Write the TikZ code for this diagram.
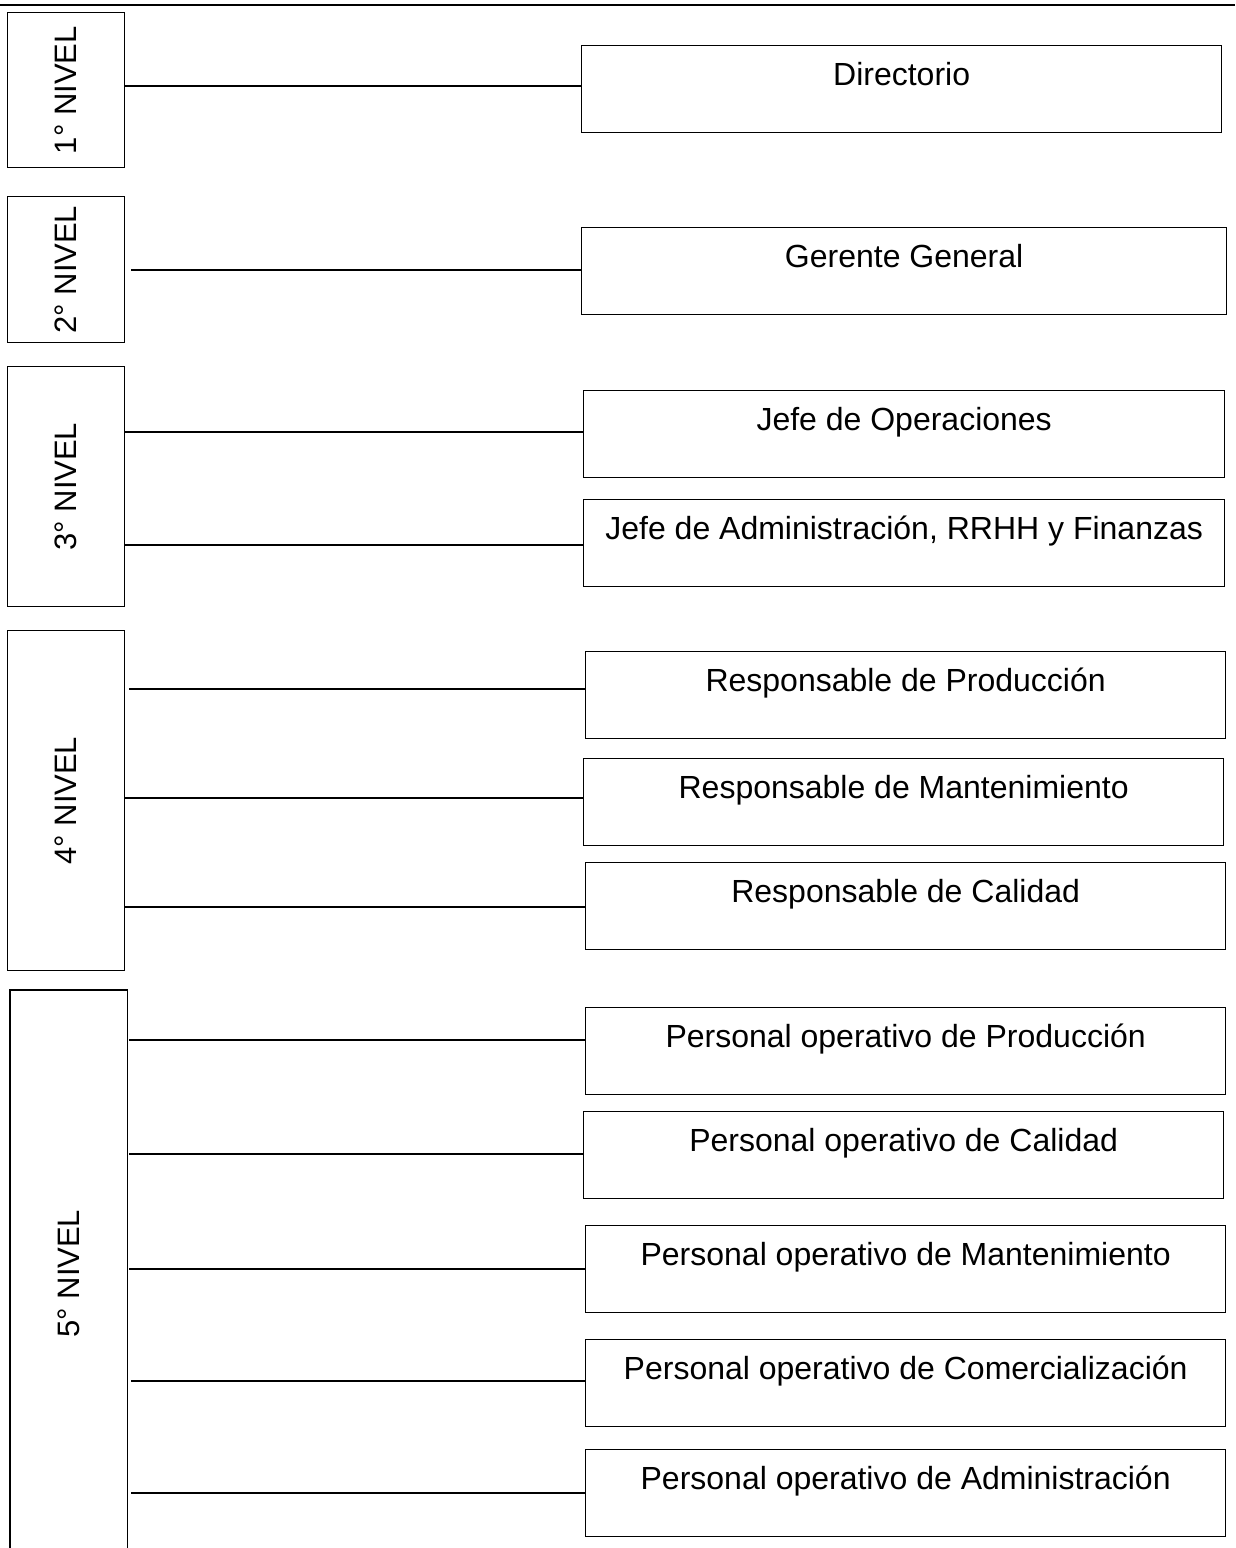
\documentclass[tikz,border=0pt]{standalone}
\usepackage{fontspec}
\setmainfont{Liberation Sans}
\begin{document}
\begin{tikzpicture}[x=1pt,y=-1pt,
  line width=1.3pt,
  rbox/.style={draw, inner sep=0pt, anchor=north west, text height=40pt, text depth=47pt,
    font=\fontsize{32}{38}\selectfont},
  lbox/.style={draw, inner sep=0pt, anchor=north west, minimum width=117pt,
    font=\fontsize{31}{36}\selectfont},
  conn/.style={line width=1.1pt}]
\useasboundingbox (0,0) rectangle (1235,1548);
\draw (0,5) -- (1235,5);
% level boxes
\node[lbox, minimum height=155pt] (L1) at (7,12) {\rotatebox{90}{1° NIVEL}};
\node[lbox, minimum height=146pt] (L2) at (7,196) {\rotatebox{90}{2° NIVEL}};
\node[lbox, minimum height=240pt] (L3) at (7,366) {\rotatebox{90}{3° NIVEL}};
\node[lbox, minimum height=340pt] (L4) at (7,630) {\rotatebox{90}{4° NIVEL}};
\node[lbox, draw=none, minimum width=116pt, minimum height=566pt] (L5) at (10,990) {\rotatebox{90}{5° NIVEL}};
\draw (L5.south west) -- (L5.north west) -- (L5.north east) -- (L5.south east);
% right boxes
\node[rbox, minimum width=640pt] (R1) at (581,45) {Directorio};
\node[rbox, minimum width=645pt] (R2) at (581,227) {Gerente General};
\node[rbox, minimum width=641pt] (R3) at (583,390) {Jefe de Operaciones};
\node[rbox, minimum width=641pt] (R4) at (583,499) {Jefe de Administración, RRHH y Finanzas};
\node[rbox, minimum width=640pt] (R5) at (585,651) {Responsable de Producción};
\node[rbox, minimum width=640pt] (R6) at (583,758) {Responsable de Mantenimiento};
\node[rbox, minimum width=640pt] (R7) at (585,862) {Responsable de Calidad};
\node[rbox, minimum width=640pt] (R8) at (585,1007) {Personal operativo de Producción};
\node[rbox, minimum width=640pt] (R9) at (583,1111) {Personal operativo de Calidad};
\node[rbox, minimum width=640pt] (R10) at (585,1225) {Personal operativo de Mantenimiento};
\node[rbox, minimum width=640pt] (R11) at (585,1339) {Personal operativo de Comercialización};
\node[rbox, minimum width=640pt] (R12) at (585,1449) {Personal operativo de Administración};
% connectors
\draw[conn] (L1.east |- 0,86) -- (R1.west |- 0,86);
\draw[conn] ([xshift=6pt]L2.east |- 0,270) -- (R2.west |- 0,270);
\draw[conn] (L3.east |- 0,432) -- (R3.west |- 0,432);
\draw[conn] (L3.east |- 0,545) -- (R4.west |- 0,545);
\draw[conn] ([xshift=4pt]L4.east |- 0,689) -- (R5.west |- 0,689);
\draw[conn] (L4.east |- 0,798) -- (R6.west |- 0,798);
\draw[conn] (L4.east |- 0,907) -- (R7.west |- 0,907);
\draw[conn] ([xshift=2pt]L5.east |- 0,1040) -- (R8.west |- 0,1040);
\draw[conn] ([xshift=2pt]L5.east |- 0,1154) -- (R9.west |- 0,1154);
\draw[conn] ([xshift=2pt]L5.east |- 0,1269) -- (R10.west |- 0,1269);
\draw[conn] ([xshift=4pt]L5.east |- 0,1381) -- (R11.west |- 0,1381);
\draw[conn] ([xshift=4pt]L5.east |- 0,1493) -- (R12.west |- 0,1493);
\end{tikzpicture}
\end{document}
